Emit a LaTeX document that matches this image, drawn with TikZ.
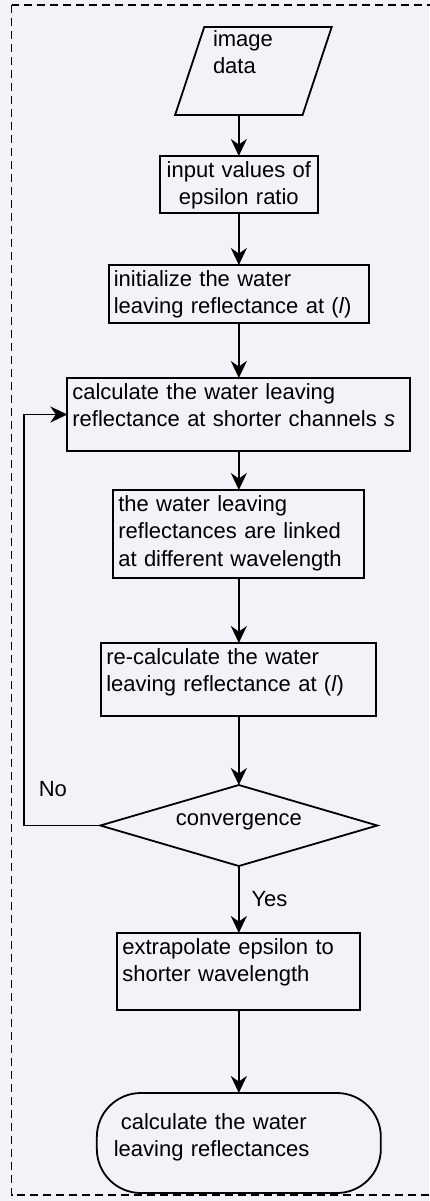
\documentclass[tikz,border=0pt]{standalone}
\usepackage{fontspec}
\setmainfont{Liberation Sans}
\usetikzlibrary{positioning,shapes.geometric,arrows.meta}
\definecolor{paper}{RGB}{241,243,248}
\begin{document}
\begin{tikzpicture}
      [font=\fontsize{11pt}{13.75pt}\selectfont, line width=0.9pt, outer sep=0pt,
       >={Stealth[length=8.5pt,width=8pt]},
       box node/.style={rectangle,draw,align=left,inner sep=2.5pt,text height=8pt,text width=#1},
       io node/.style={trapezium,trapezium left angle=73,trapezium right angle=107,
         trapezium stretches=true,draw,align=left,inner sep=2.5pt,minimum width=78.5pt,minimum height=44pt},
       test node/.style={diamond,draw,aspect=3.4,inner sep=1pt,text height=3pt,text depth=3pt,
         minimum width=138.5pt,minimum height=40.5pt},
       end node/.style={rectangle,rounded corners=22pt,draw,align=left,inner xsep=8.5pt,inner ysep=2.5pt,
         text width=125pt,text height=15.5pt,text depth=29.5pt}]
      \fill[paper] (0,0) rectangle (214.5pt,-600.5pt);
      \useasboundingbox (0,0) rectangle (214.5pt,-600.5pt);
      \draw[dash pattern=on 4pt off 2.5pt] (5.75pt,-2.5pt) rectangle (225pt,-597.5pt);

      \node[io node, text width=40.4pt, text height=7pt, text depth=32pt] (data) at (126.7pt,-35.5pt) {image\\data};

      \node[box node=74pt, align=center, text depth=15.5pt, below=20.5pt of data.bottom side] (eps) {input values of\\epsilon ratio};
      \node[box node=125pt, text depth=16pt, below=26pt of eps] (init) {initialize the water\\leaving reflectance at (\textit{l})};
      \node[box node=166.5pt, text depth=23.5pt, below=27.5pt of init] (calc) {calculate the water leaving\\reflectance at shorter channels \textit{s}};
      \node[box node=120.5pt, text depth=31pt, below=19.5pt of calc] (link) {the water leaving\\reflectances are linked\\at different wavelength};
      \node[box node=132.5pt, text depth=23.5pt, below=32.5pt of link] (recalc) {re-calculate the water\\leaving reflectance at (\textit{l})};

      \node[test node, below=34.5pt of recalc] (conv) {convergence};

      \node[box node=116.5pt, text depth=25.5pt, below=33.5pt of conv] (extra) {extrapolate epsilon to\\shorter wavelength};
      \node[end node, below=41.5pt of extra] (result) {\hspace*{3.5pt}calculate the water\\leaving reflectances};

      \draw[->] (data.bottom side) -- (eps);
      \draw[->] (eps) -- (init);
      \draw[->] (init) -- (calc);
      \draw[->] (calc) -- (link);
      \draw[->] (link) -- (recalc);
      \draw[->] (recalc) -- (conv);
      \draw[->] (conv) -- node[right=3pt] {Yes} (extra);
      \draw[->] (extra) -- (result);
      \draw[->] (conv.west) -- node[above=11pt, pos=0.62] {No} ++(-38.25pt,0) |- (calc.west);
\end{tikzpicture}
\end{document}
